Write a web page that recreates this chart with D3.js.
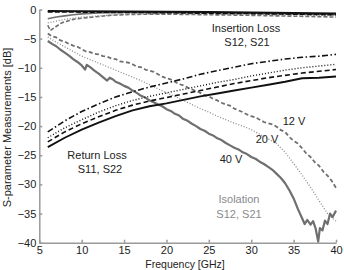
<!DOCTYPE html>
<html>
<head>
<meta charset="utf-8">
<script src="https://cdn.jsdelivr.net/npm/d3@7"></script>
<style>
    body { margin: 0; background: #fff; }
    svg text { font-family: "Liberation Sans", Arial, sans-serif; }
</style>
</head>
<body>
<div id="chart"></div>
<script>

// ---- data (frequency in GHz, value in dB) ----

// insertion loss S12, S21
let ilFreq = [6, 10, 15, 20, 25, 30, 35, 40];
let ilBlackSolid = [-0.25, -0.3, -0.35, -0.4, -0.45, -0.5, -0.6, -0.7];
let ilBlackDashed = [-0.4, -0.45, -0.5, -0.55, -0.65, -0.7, -0.8, -0.9];

let ilGraySolidFreq = [6, 7, 8, 9, 10, 12, 15, 20, 25, 30, 35, 40];
let ilGraySolid = [-1.6, -1.3, -1.1, -0.9, -0.75, -0.6, -0.5, -0.5, -0.55, -0.65, -0.75, -0.85];

let ilGrayDottedFreq = [6, 7, 8, 9, 10, 12, 14, 16, 20, 25, 30, 35, 40];
let ilGrayDotted = [-2.3, -2.0, -1.7, -1.5, -1.3, -1.1, -0.9, -0.8, -0.7, -0.75, -0.85, -0.95, -1.05];

let ilGrayDashedFreq = [6, 6.3, 6.8, 7.5, 8, 9, 10, 11, 12, 13, 14, 16, 18, 20, 25, 30, 35, 40];
let ilGrayDashed = [-2.7, -3.6, -3.1, -2.4, -2.1, -1.7, -1.5, -1.35, -1.2, -1.05, -0.95, -0.85, -0.8, -0.8, -0.9, -1.0, -1.15, -1.3];

// return loss S11, S22
let rlFreq = [6, 8, 10, 12, 14, 16, 18, 20, 22, 24, 26, 28, 30, 32, 34, 36, 38, 40];
let rlSolid = [-23.6, -22.0, -20.6, -19.4, -18.3, -17.3, -16.6, -16.1, -15.5, -14.9, -14.4, -13.9, -13.4, -12.9, -12.4, -11.8, -11.7, -11.5];
let rlDashed = [-22.7, -21.0, -19.6, -18.4, -17.3, -16.4, -15.7, -15.1, -14.5, -13.9, -13.3, -12.7, -12.2, -11.7, -11.3, -10.9, -10.6, -10.3];
let rlDotted = [-22.0, -20.3, -18.9, -17.6, -16.5, -15.6, -14.9, -14.3, -13.7, -13.1, -12.5, -12.0, -11.4, -10.9, -10.4, -10.0, -9.7, -9.4];
let rlDashDot = [-21.0, -19.1, -17.5, -16.2, -15.0, -14.1, -13.3, -12.6, -11.9, -11.1, -10.5, -9.9, -9.3, -8.9, -8.5, -8.2, -8.0, -7.7];

// isolation S12, S21 (noisy measured traces)
let iso12Freq = [6, 6.5, 7, 7.5, 8, 8.5, 9, 9.5, 10, 10.5, 11, 11.5, 12, 12.5, 13, 13.5, 14, 14.5, 15, 15.5, 16, 16.5, 17, 17.5, 18, 18.5, 19, 19.5, 20, 20.5, 21, 21.5, 22, 22.5, 23, 23.5, 24, 24.5, 25, 25.5, 26, 26.5, 27, 27.5, 28, 28.5, 29, 29.5, 30, 30.5, 31, 31.5, 32, 32.5, 33, 33.5, 34, 34.5, 35, 35.5, 36, 36.5, 37, 37.5, 38, 38.5, 39, 39.5, 40];
let iso12V = [-4.1, -4.6, -4.8, -5.3, -5.5, -5.9, -6.2, -6.4, -6.8, -7.2, -7.3, -7.6, -7.7, -8.0, -8.1, -8.4, -8.5, -8.9, -9.0, -9.1, -9.4, -9.8, -9.9, -10.3, -10.5, -10.7, -11.1, -11.5, -11.8, -12.0, -12.4, -12.8, -13.0, -13.4, -13.7, -14.0, -14.3, -14.7, -14.9, -15.3, -15.6, -16.0, -16.3, -16.5, -17.0, -17.3, -17.6, -18.0, -18.3, -18.5, -18.9, -19.3, -19.5, -19.7, -20.1, -20.7, -21.0, -21.9, -22.5, -23.0, -23.8, -24.7, -25.3, -26.2, -26.8, -27.8, -28.5, -29.4, -30.6];

let iso20Freq = [6, 7, 8, 9, 10, 11, 12, 13, 14, 15, 16, 17, 18, 19, 20, 21, 22, 23, 24, 25, 26, 27, 28, 29, 30, 31, 32, 33, 34, 35, 36, 37, 38, 39, 40];
let iso20V = [-4.7, -5.6, -6.4, -7.2, -8.0, -8.6, -9.2, -9.8, -10.4, -11.0, -11.6, -12.2, -12.9, -13.6, -14.3, -14.9, -15.6, -16.3, -17.0, -17.6, -18.3, -18.9, -19.5, -20.0, -20.6, -21.4, -22.2, -23.0, -24.5, -26.4, -28.4, -30.5, -32.8, -35.0, -36.3];

let iso40Freq = [6, 6.5, 7, 7.5, 8, 8.5, 9, 9.5, 10, 10.4, 10.6, 11, 11.5, 12, 12.5, 13, 13.3, 13.7, 14, 14.5, 15, 15.5, 16, 16.5, 17, 17.5, 18, 18.5, 19, 19.5, 20, 20.5, 21, 21.5, 22, 22.5, 23, 23.5, 24, 24.5, 25, 25.5, 26, 26.5, 27, 27.5, 28, 28.5, 29, 29.5, 30, 30.5, 31, 31.5, 32, 32.5, 33, 33.5, 34, 34.5, 35, 35.5, 36, 36.3, 36.6, 37, 37.3, 37.6, 37.9, 38.1, 38.4, 38.7, 39, 39.3, 39.6, 40];
let iso40V = [-5.4, -5.9, -6.3, -6.9, -7.4, -7.9, -8.5, -9.0, -9.6, -10.3, -9.5, -9.9, -10.5, -11.0, -11.6, -12.2, -11.7, -12.0, -12.4, -12.7, -13.1, -13.4, -13.9, -14.3, -14.8, -15.1, -15.6, -15.9, -16.3, -16.6, -17.1, -17.4, -17.9, -18.2, -18.8, -19.1, -19.6, -20.0, -20.5, -20.8, -21.3, -21.6, -22.1, -22.4, -22.9, -23.3, -23.7, -24.0, -24.5, -24.8, -25.3, -25.6, -26.1, -26.5, -27.0, -27.5, -28.2, -28.9, -29.8, -31.0, -32.4, -34.2, -35.8, -36.8, -36.1, -36.9, -36.3, -37.6, -39.8, -37.5, -37.9, -36.2, -36.8, -35.0, -35.6, -34.5];

let xTicks = [5, 10, 15, 20, 25, 30, 35, 40];
let yTicks = [0, -5, -10, -15, -20, -25, -30, -35, -40];

// ---- layout ----
let margin = {top: 9.5, right: 8, bottom: 27.3, left: 39.3};
let width = 344 - margin.left - margin.right;
let height = 270 - margin.top - margin.bottom;

let svg = d3.select("#chart").append("svg")
    .attr("width", 344)
    .attr("height", 270)
    .append("g")
    .attr("transform", `translate(${margin.left}, ${margin.top})`);

let x = d3.scaleLinear().domain([5, 40]).range([0, width]);
let y = d3.scaleLinear().domain([-40, 0]).range([height, 0]);

// axes (matlab style, ticks pointing inward, no box)
let xAxis = d3.axisBottom(x).tickValues(xTicks).tickSizeInner(-3).tickSizeOuter(0).tickPadding(4);
let yAxis = d3.axisLeft(y).tickValues(yTicks).tickSizeInner(-3).tickSizeOuter(0).tickPadding(3);

svg.append("g")
    .attr("class", "x-axis")
    .attr("transform", `translate(0, ${height})`)
    .call(xAxis);

svg.append("g")
    .attr("class", "y-axis")
    .call(yAxis);

svg.selectAll(".x-axis, .y-axis").selectAll("path, line")
    .attr("stroke", "#9a9a9a")
    .attr("stroke-width", 1.5);
svg.selectAll(".x-axis, .y-axis").selectAll("text")
    .attr("fill", "#222")
    .style("font-size", "11px");

// ---- curves ----
let line = d3.line()
    .x(d => x(d[0]))
    .y(d => y(d[1]));

function drawCurve(freq, vals, color, w, dash) {
    svg.append("path")
        .datum(freq.map((f, i) => [f, vals[i]]))
        .attr("fill", "none")
        .attr("stroke", color)
        .attr("stroke-width", w)
        .attr("stroke-linejoin", "round")
        .attr("stroke-dasharray", dash)
        .attr("d", line);
}

let gray = "#6f6f6f";
let lightGray = "#8c8c8c";
let black = "#111";

// insertion loss
drawCurve(ilGrayDashedFreq, ilGrayDashed, gray, 1.6, "4,2");
drawCurve(ilGrayDottedFreq, ilGrayDotted, lightGray, 1.3, "1,1.8");
drawCurve(ilGraySolidFreq, ilGraySolid, gray, 1.6, null);
drawCurve(ilFreq, ilBlackDashed, black, 1.6, "5,2");
drawCurve(ilFreq, ilBlackSolid, black, 2, null);

// isolation
drawCurve(iso20Freq, iso20V, lightGray, 1.3, "1,1.8");
drawCurve(iso12Freq, iso12V, gray, 1.8, "4,2.5");
drawCurve(iso40Freq, iso40V, gray, 2.2, null);

// return loss
drawCurve(rlFreq, rlDashDot, black, 1.6, "6,2.5,1.5,2.5");
drawCurve(rlFreq, rlDotted, black, 1.4, "1,2");
drawCurve(rlFreq, rlDashed, black, 1.6, "5,3");
drawCurve(rlFreq, rlSolid, black, 1.9, null);

// ---- annotations (page coordinates) ----
let page = d3.select("#chart svg");

function note(px, py, str, color, anchor) {
    page.append("text")
        .attr("x", px)
        .attr("y", py)
        .attr("text-anchor", anchor || "middle")
        .attr("fill", color)
        .style("font-size", "11px")
        .text(str);
}

note(246, 32, "Insertion Loss", "#222");
note(247, 46, "S12, S21", "#222");
note(97, 159, "Return Loss", "#222");
note(100, 173, "S11, S22", "#222");
note(239, 203, "Isolation", "#8a8a8a");
note(239, 218, "S12, S21", "#8a8a8a");
note(294, 125, "12 V", "#222");
note(267, 143, "20 V", "#222");
note(231, 163, "40 V", "#222");

// axis titles
page.append("text")
    .attr("x", 185)
    .attr("y", 267.5)
    .attr("text-anchor", "middle")
    .attr("fill", "#222")
    .style("font-size", "10.5px")
    .text("Frequency [GHz]");

page.append("text")
    .attr("transform", "translate(11, 127.5) rotate(-90)")
    .attr("text-anchor", "middle")
    .attr("fill", "#222")
    .style("font-size", "11px")
    .text("S-parameter Measurements [dB]");

</script>
</body>
</html>
